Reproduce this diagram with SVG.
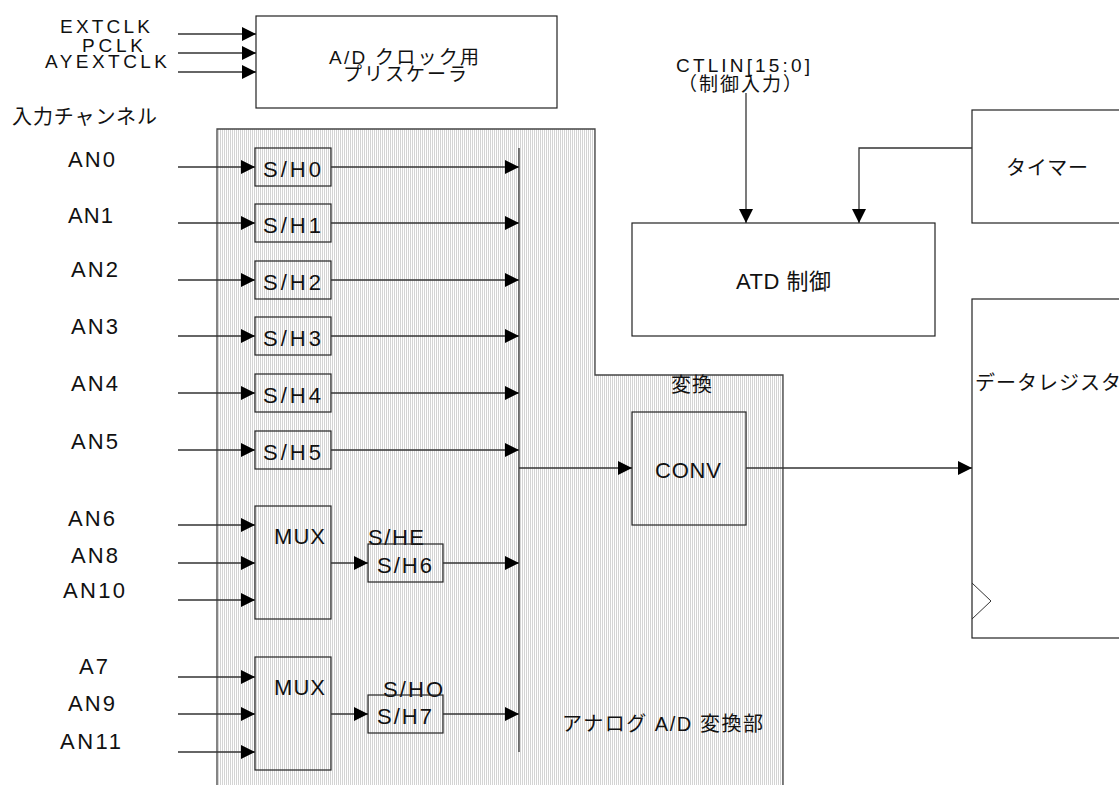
<svg xmlns="http://www.w3.org/2000/svg" width="1119" height="785" viewBox="0 0 1119 785">
<defs>
<pattern id="hatch" width="2" height="2" patternUnits="userSpaceOnUse">
<rect width="2" height="2" fill="#ffffff"/>
<rect width="1" height="2" fill="#d4d4d4"/>
</pattern>
<marker id="arr" markerWidth="14" markerHeight="14" refX="14" refY="7" orient="auto" markerUnits="userSpaceOnUse">
<path d="M0,0 L14,7 L0,14 z" fill="#000"/>
</marker>
</defs>
<style>
text{font-family:"Liberation Sans","Noto Sans CJK JP",sans-serif;fill:#111;}
.l{font-size:19px;}
.j{font-size:19px;}
.c{font-size:20px;}
.m{font-size:22px;}
.a{font-size:22px;}
.box{fill:#fff;stroke:#222;stroke-width:1.2;}
.hbox{fill:none;stroke:#222;stroke-width:1.2;}
.w{stroke:#333;stroke-width:1.3;fill:none;}
.wa{stroke:#333;stroke-width:1.3;fill:none;marker-end:url(#arr);}
</style>
<rect width="1119" height="785" fill="#fff"/>

<g id="analog-ad">
<path d="M217,785 L217,129 L595,129 L595,375 L783,375 L783,785" fill="url(#hatch)" stroke="#444" stroke-width="1.3"/>
<text class="c" x="562" y="731" textLength="201" lengthAdjust="spacing">アナログ A/D 変換部</text>
<text class="c" x="671" y="392" textLength="41" lengthAdjust="spacing">変換</text>
</g>

<g id="prescaler">
<rect class="box" x="256" y="16" width="301" height="92"/>
<text class="j" x="329" y="64" textLength="150" lengthAdjust="spacing">A/D クロック用</text>
<text class="j" x="343" y="81" textLength="124" lengthAdjust="spacing">プリスケーラ</text>
</g>

<g id="clock-labels">
<text class="l" x="60" y="33" textLength="90" lengthAdjust="spacing">EXTCLK</text>
<text class="l" x="82" y="52" textLength="61" lengthAdjust="spacing">PCLK</text>
<text class="l" x="45" y="68" textLength="122" lengthAdjust="spacing">AYEXTCLK</text>
</g>

<g id="input-labels">
<text class="c" x="12" y="124" textLength="145" lengthAdjust="spacing">入力チャンネル</text>
<text class="a" x="68" y="167" textLength="47" lengthAdjust="spacing">AN0</text>
<text class="a" x="68" y="223" textLength="45" lengthAdjust="spacing">AN1</text>
<text class="a" x="71" y="277" textLength="47" lengthAdjust="spacing">AN2</text>
<text class="a" x="71" y="334" textLength="47" lengthAdjust="spacing">AN3</text>
<text class="a" x="71" y="391" textLength="47" lengthAdjust="spacing">AN4</text>
<text class="a" x="71" y="449" textLength="47" lengthAdjust="spacing">AN5</text>
<text class="a" x="68" y="526" textLength="47" lengthAdjust="spacing">AN6</text>
<text class="a" x="71" y="563" textLength="47" lengthAdjust="spacing">AN8</text>
<text class="a" x="63" y="598" textLength="62" lengthAdjust="spacing">AN10</text>
<text class="a" x="79" y="674" textLength="29" lengthAdjust="spacing">A7</text>
<text class="a" x="68" y="711" textLength="47" lengthAdjust="spacing">AN9</text>
<text class="a" x="60" y="749" textLength="61" lengthAdjust="spacing">AN11</text>
</g>

<g id="sh0"><rect class="hbox" x="255" y="148" width="76" height="38"/><text class="m" x="263" y="177" textLength="58" lengthAdjust="spacing">S/H0</text></g>
<g id="sh1"><rect class="hbox" x="255" y="204" width="76" height="38"/><text class="m" x="263" y="233" textLength="58" lengthAdjust="spacing">S/H1</text></g>
<g id="sh2"><rect class="hbox" x="255" y="261" width="76" height="38"/><text class="m" x="263" y="290" textLength="58" lengthAdjust="spacing">S/H2</text></g>
<g id="sh3"><rect class="hbox" x="255" y="317" width="76" height="38"/><text class="m" x="263" y="346" textLength="58" lengthAdjust="spacing">S/H3</text></g>
<g id="sh4"><rect class="hbox" x="255" y="374" width="76" height="38"/><text class="m" x="263" y="403" textLength="58" lengthAdjust="spacing">S/H4</text></g>
<g id="sh5"><rect class="hbox" x="255" y="431" width="76" height="38"/><text class="m" x="263" y="460" textLength="58" lengthAdjust="spacing">S/H5</text></g>

<g id="mux1"><rect class="hbox" x="255" y="506" width="76" height="113"/><text class="a" x="274" y="544" textLength="51" lengthAdjust="spacing">MUX</text></g>
<g id="mux2"><rect class="hbox" x="255" y="657" width="76" height="113"/><text class="a" x="274" y="695" textLength="51" lengthAdjust="spacing">MUX</text></g>

<g id="sh6"><text class="m" x="368" y="545" textLength="56" lengthAdjust="spacing">S/HE</text><rect class="hbox" x="368" y="544" width="75" height="38"/><text class="m" x="377" y="573" textLength="55" lengthAdjust="spacing">S/H6</text></g>
<g id="sh7"><text class="m" x="383" y="697" textLength="60" lengthAdjust="spacing">S/HO</text><rect class="hbox" x="368" y="695" width="75" height="38"/><text class="m" x="377" y="724" textLength="55" lengthAdjust="spacing">S/H7</text></g>

<g id="conv"><rect class="hbox" x="632" y="412" width="114" height="113"/><text class="a" x="655" y="478" textLength="66" lengthAdjust="spacing">CONV</text></g>

<g id="atd-control"><rect class="box" x="632" y="223" width="303" height="113"/><text class="a" x="736" y="289" textLength="95" lengthAdjust="spacing">ATD 制御</text></g>

<g id="ctlin-label">
<text class="l" x="676" y="72" textLength="134" lengthAdjust="spacing">CTLIN[15:0]</text>
<text class="j" x="678" y="91" textLength="124" lengthAdjust="spacing">（制御入力）</text>
</g>

<g id="timer"><rect class="box" x="972" y="110" width="160" height="113"/><text class="c" x="1006" y="175" textLength="82" lengthAdjust="spacing">タイマー</text></g>

<g id="data-register"><rect class="box" x="972" y="299" width="160" height="339"/><path d="M972,583 L991,601 L972,619" fill="none" stroke="#333" stroke-width="1"/><text class="c" x="975" y="390" textLength="146" lengthAdjust="spacing">データレジスタ</text></g>

<g id="connectors">
<line class="wa" x1="178" y1="34" x2="256" y2="34"/>
<line class="wa" x1="178" y1="53" x2="256" y2="53"/>
<line class="wa" x1="178" y1="72" x2="256" y2="72"/>

<line class="wa" x1="178" y1="167" x2="255" y2="167"/>
<line class="wa" x1="178" y1="223" x2="255" y2="223"/>
<line class="wa" x1="178" y1="280" x2="255" y2="280"/>
<line class="wa" x1="178" y1="336" x2="255" y2="336"/>
<line class="wa" x1="178" y1="393" x2="255" y2="393"/>
<line class="wa" x1="178" y1="450" x2="255" y2="450"/>
<line class="wa" x1="178" y1="525" x2="255" y2="525"/>
<line class="wa" x1="178" y1="563" x2="255" y2="563"/>
<line class="wa" x1="178" y1="600" x2="255" y2="600"/>
<line class="wa" x1="178" y1="677" x2="255" y2="677"/>
<line class="wa" x1="178" y1="714" x2="255" y2="714"/>
<line class="wa" x1="178" y1="752" x2="255" y2="752"/>

<line class="wa" x1="331" y1="167" x2="519" y2="167"/>
<line class="wa" x1="331" y1="223" x2="519" y2="223"/>
<line class="wa" x1="331" y1="280" x2="519" y2="280"/>
<line class="wa" x1="331" y1="336" x2="519" y2="336"/>
<line class="wa" x1="331" y1="393" x2="519" y2="393"/>
<line class="wa" x1="331" y1="450" x2="519" y2="450"/>

<line class="wa" x1="331" y1="563" x2="368" y2="563"/>
<line class="wa" x1="331" y1="714" x2="368" y2="714"/>
<line class="wa" x1="443" y1="563" x2="519" y2="563"/>
<line class="wa" x1="443" y1="714" x2="519" y2="714"/>

<line class="w" x1="519" y1="148" x2="519" y2="752"/>
<line class="wa" x1="519" y1="468" x2="632" y2="468"/>
<line class="wa" x1="746" y1="468" x2="972" y2="468"/>

<line class="wa" x1="746" y1="93" x2="746" y2="223"/>
<polyline class="wa" points="972,148 859,148 859,223"/>
</g>
</svg>
